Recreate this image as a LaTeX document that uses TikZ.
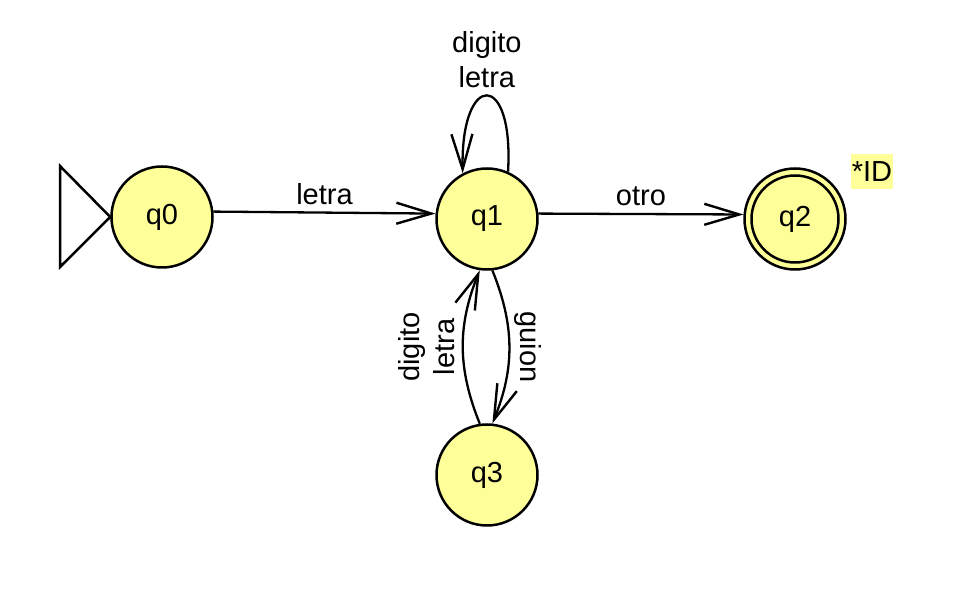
\documentclass[tikz,border=0pt]{standalone}
\usepackage{fontspec}
\setmainfont{Liberation Sans}
\usetikzlibrary{arrows.meta}
\definecolor{stateyellow}{RGB}{255,255,153}
\tikzset{
  state/.style={circle, draw, line width=1.25pt, fill=stateyellow, minimum size=50.5pt, inner sep=0pt},
  trans/.style={line width=1.15pt, -{Straight Barb[length=17.5pt, width=10.5pt, line width=1.2pt]}},
}
\begin{document}
\begin{tikzpicture}[x=0.5pt, y=0.5pt, font=\fontsize{14.5}{17.5}\selectfont]
  \useasboundingbox (0,0) rectangle (960,589);
  \node[state] (q0) at (162,372) {q0};
  \node[state] (q1) at (487,370) {q1};
  \node[state] (q2) at (795,370) {q2};
  \node[state] (q3) at (487,114) {q3};
  \draw[line width=1.25pt] (q2.center) circle (21.75pt);
  \node[fill=stateyellow, inner xsep=0.5pt, inner ysep=0pt, minimum height=17.5pt] (id) at (872,417) {*ID};

  \draw[line width=1.25pt] (q0.west) -- (60,423) -- (60,322) -- cycle;

  \draw[trans] (q0.6) -- node[above]{letra} (q1.174);
  \draw[trans] (q1.6) -- node[above]{otro} (q2.175);
  \draw[trans] (q1.66) .. controls +(6,102) and +(-2,102) .. node[above, align=center]{digito\\letra} (q1.118);
  \draw[trans] (q3.98) to [bend left=22] node[rotate=90, anchor=south, align=center]{digito\\letra} (q1.262);
  \draw[trans] (q1.276) to [bend left=22] node[rotate=-90, anchor=south, inner sep=2pt]{guion} (q3.84);
\end{tikzpicture}
\end{document}
